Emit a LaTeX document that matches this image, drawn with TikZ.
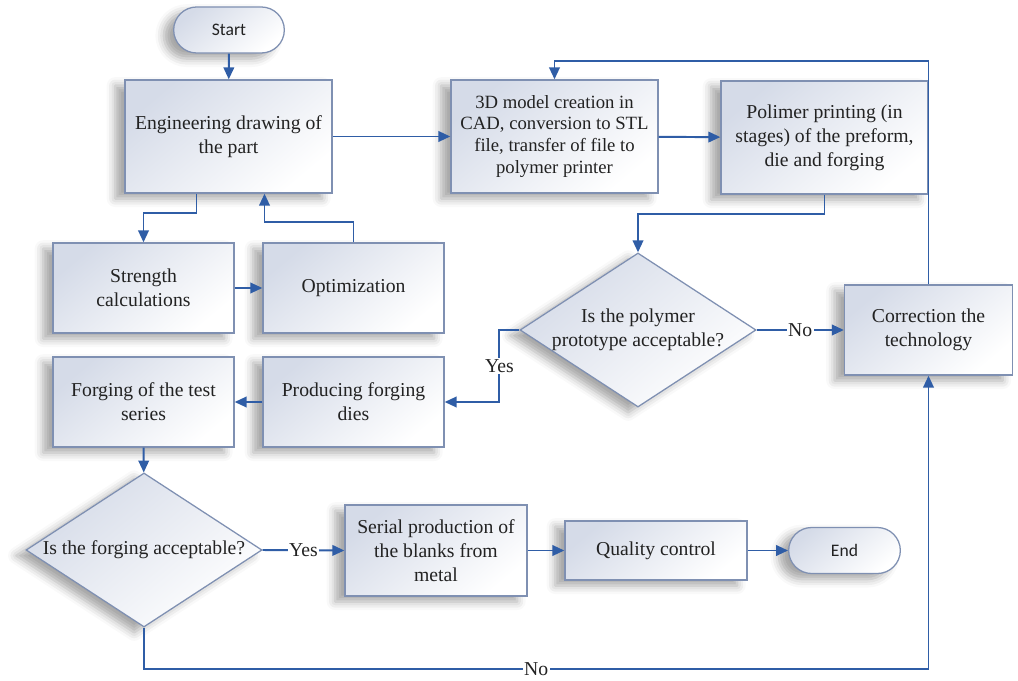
\documentclass[tikz,border=0pt]{standalone}
\usepackage{fontspec}
\setmainfont{Liberation Serif}
\newfontfamily\termfont{Carlito}
\usetikzlibrary{shapes.geometric,shapes.misc,shadows.blur,arrows.meta}
\definecolor{linkblue}{HTML}{2F5DA6}
\definecolor{framegray}{HTML}{7F90B2}
\definecolor{shadetop}{HTML}{D5DBE8}
\definecolor{textgray}{HTML}{222222}
\newcommand{\dtext}[1]{\makebox[0pt]{\begin{tabular}{@{}c@{}}#1\end{tabular}}}
\begin{document}
\begin{tikzpicture}[x=0.025cm, y=-0.025cm,
		font=\fontsize{14}{17}\selectfont, text=textgray,
		look/.style={draw=framegray, line width=0.9pt, top color=shadetop, bottom color=white, shading angle=40,
			blur shadow={shadow xshift=-7pt, shadow yshift=-4pt, shadow blur radius=6pt, shadow opacity=35}},
		box/.style={look, align=center, inner sep=2pt},
		big/.style={box, minimum width=5.175cm, minimum height=2.825cm},
		small/.style={box, minimum width=4.525cm, minimum height=2.25cm},
		decision/.style={look, diamond, inner sep=0pt, minimum width=5.9cm, minimum height=3.85cm},
		terminal/.style={look, rounded rectangle, font=\termfont\fontsize{12.5}{15}\selectfont, minimum height=1.15cm},
		link/.style={draw=linkblue, line width=1.4pt, -{Triangle[length=8.5pt,width=7.5pt]}},
		lab/.style={fill=white, inner sep=1pt, text=textgray}]
		\useasboundingbox (0,0) rectangle (1018,681);
		% top row
		\node[terminal, minimum width=3cm] (start) at (229,30) {Start};
		\node[big] (eng) at (228.5,136.5) {Engineering drawing of\\the part};
		\node[big, font=\fontsize{13.3}{15.6}\selectfont] (model) at (554.5,136.5) {3D model creation in\\CAD, conversion to STL\\file, transfer of file to\\polymer printer};
		\node[big] (print) at (824.5,137.5) {Polimer printing (in\\stages) of the preform,\\die and forging};
		% middle rows
		\node[small] (strength) at (143.5,288) {Strength\\calculations};
		\node[small] (optim) at (353.5,288) {Optimization};
		\node[small] (forge) at (143.5,402) {Forging of the test\\series};
		\node[small] (dies) at (353.5,402) {Producing forging\\dies};
		\node[decision] (check1) at (638,330) {\dtext{Is the polymer\\prototype acceptable?}};
		\node[box, minimum width=4.2cm, minimum height=2.25cm] (corr) at (928.5,330) {Correction the\\technology};
		% bottom row
		\node[decision] (check2) at (144,550) {\dtext{Is the forging acceptable?}};
		\node[box, minimum width=4.55cm, minimum height=2.275cm] (serial) at (436,550.5) {Serial production of\\the blanks from\\metal};
		\node[box, minimum width=4.55cm, minimum height=1.475cm] (quality) at (656,550.5) {Quality control};
		\node[terminal, minimum width=3.025cm] (end) at (844.5,550.5) {End};
		\coordinate (loop) at (0,61);
		\coordinate (floor) at (0,669);
		% connectors
		\draw[link] (start) -- (eng);
		\draw[link] (eng) -- (model);
		\draw[link] (model) -- (print);
		\draw[link] (print.south) -- ++(0,19) -| (check1.north);
		\draw[link] ([xshift=-0.8cm]eng.south) -- ++(0,19) -| (strength.north);
		\draw[link] (strength) -- (optim);
		\draw[link] (optim.north) -- ++(0,-20) -| ([xshift=0.9cm]eng.south);
		\draw[link] (check1.east) -- node[lab] {No} (corr.west);
		\draw[link] (check1.west) -- ++(-20,0) |- node[lab, pos=0.25] {Yes} (dies.east);
		\draw[link] (dies) -- (forge);
		\draw[link] (corr.north) -- (corr.north |- loop) -| (model.north);
		\draw[link] (forge) -- (check2);
		\draw[link] (check2.east) -- node[lab] {Yes} (serial.west);
		\draw[link] (serial) -- (quality);
		\draw[link] (quality) -- (end);
		\draw[link] (check2.south) -- (check2.south |- floor) -- node[lab] {No} (corr.south |- floor) -- (corr.south);
	\end{tikzpicture}
\end{document}
